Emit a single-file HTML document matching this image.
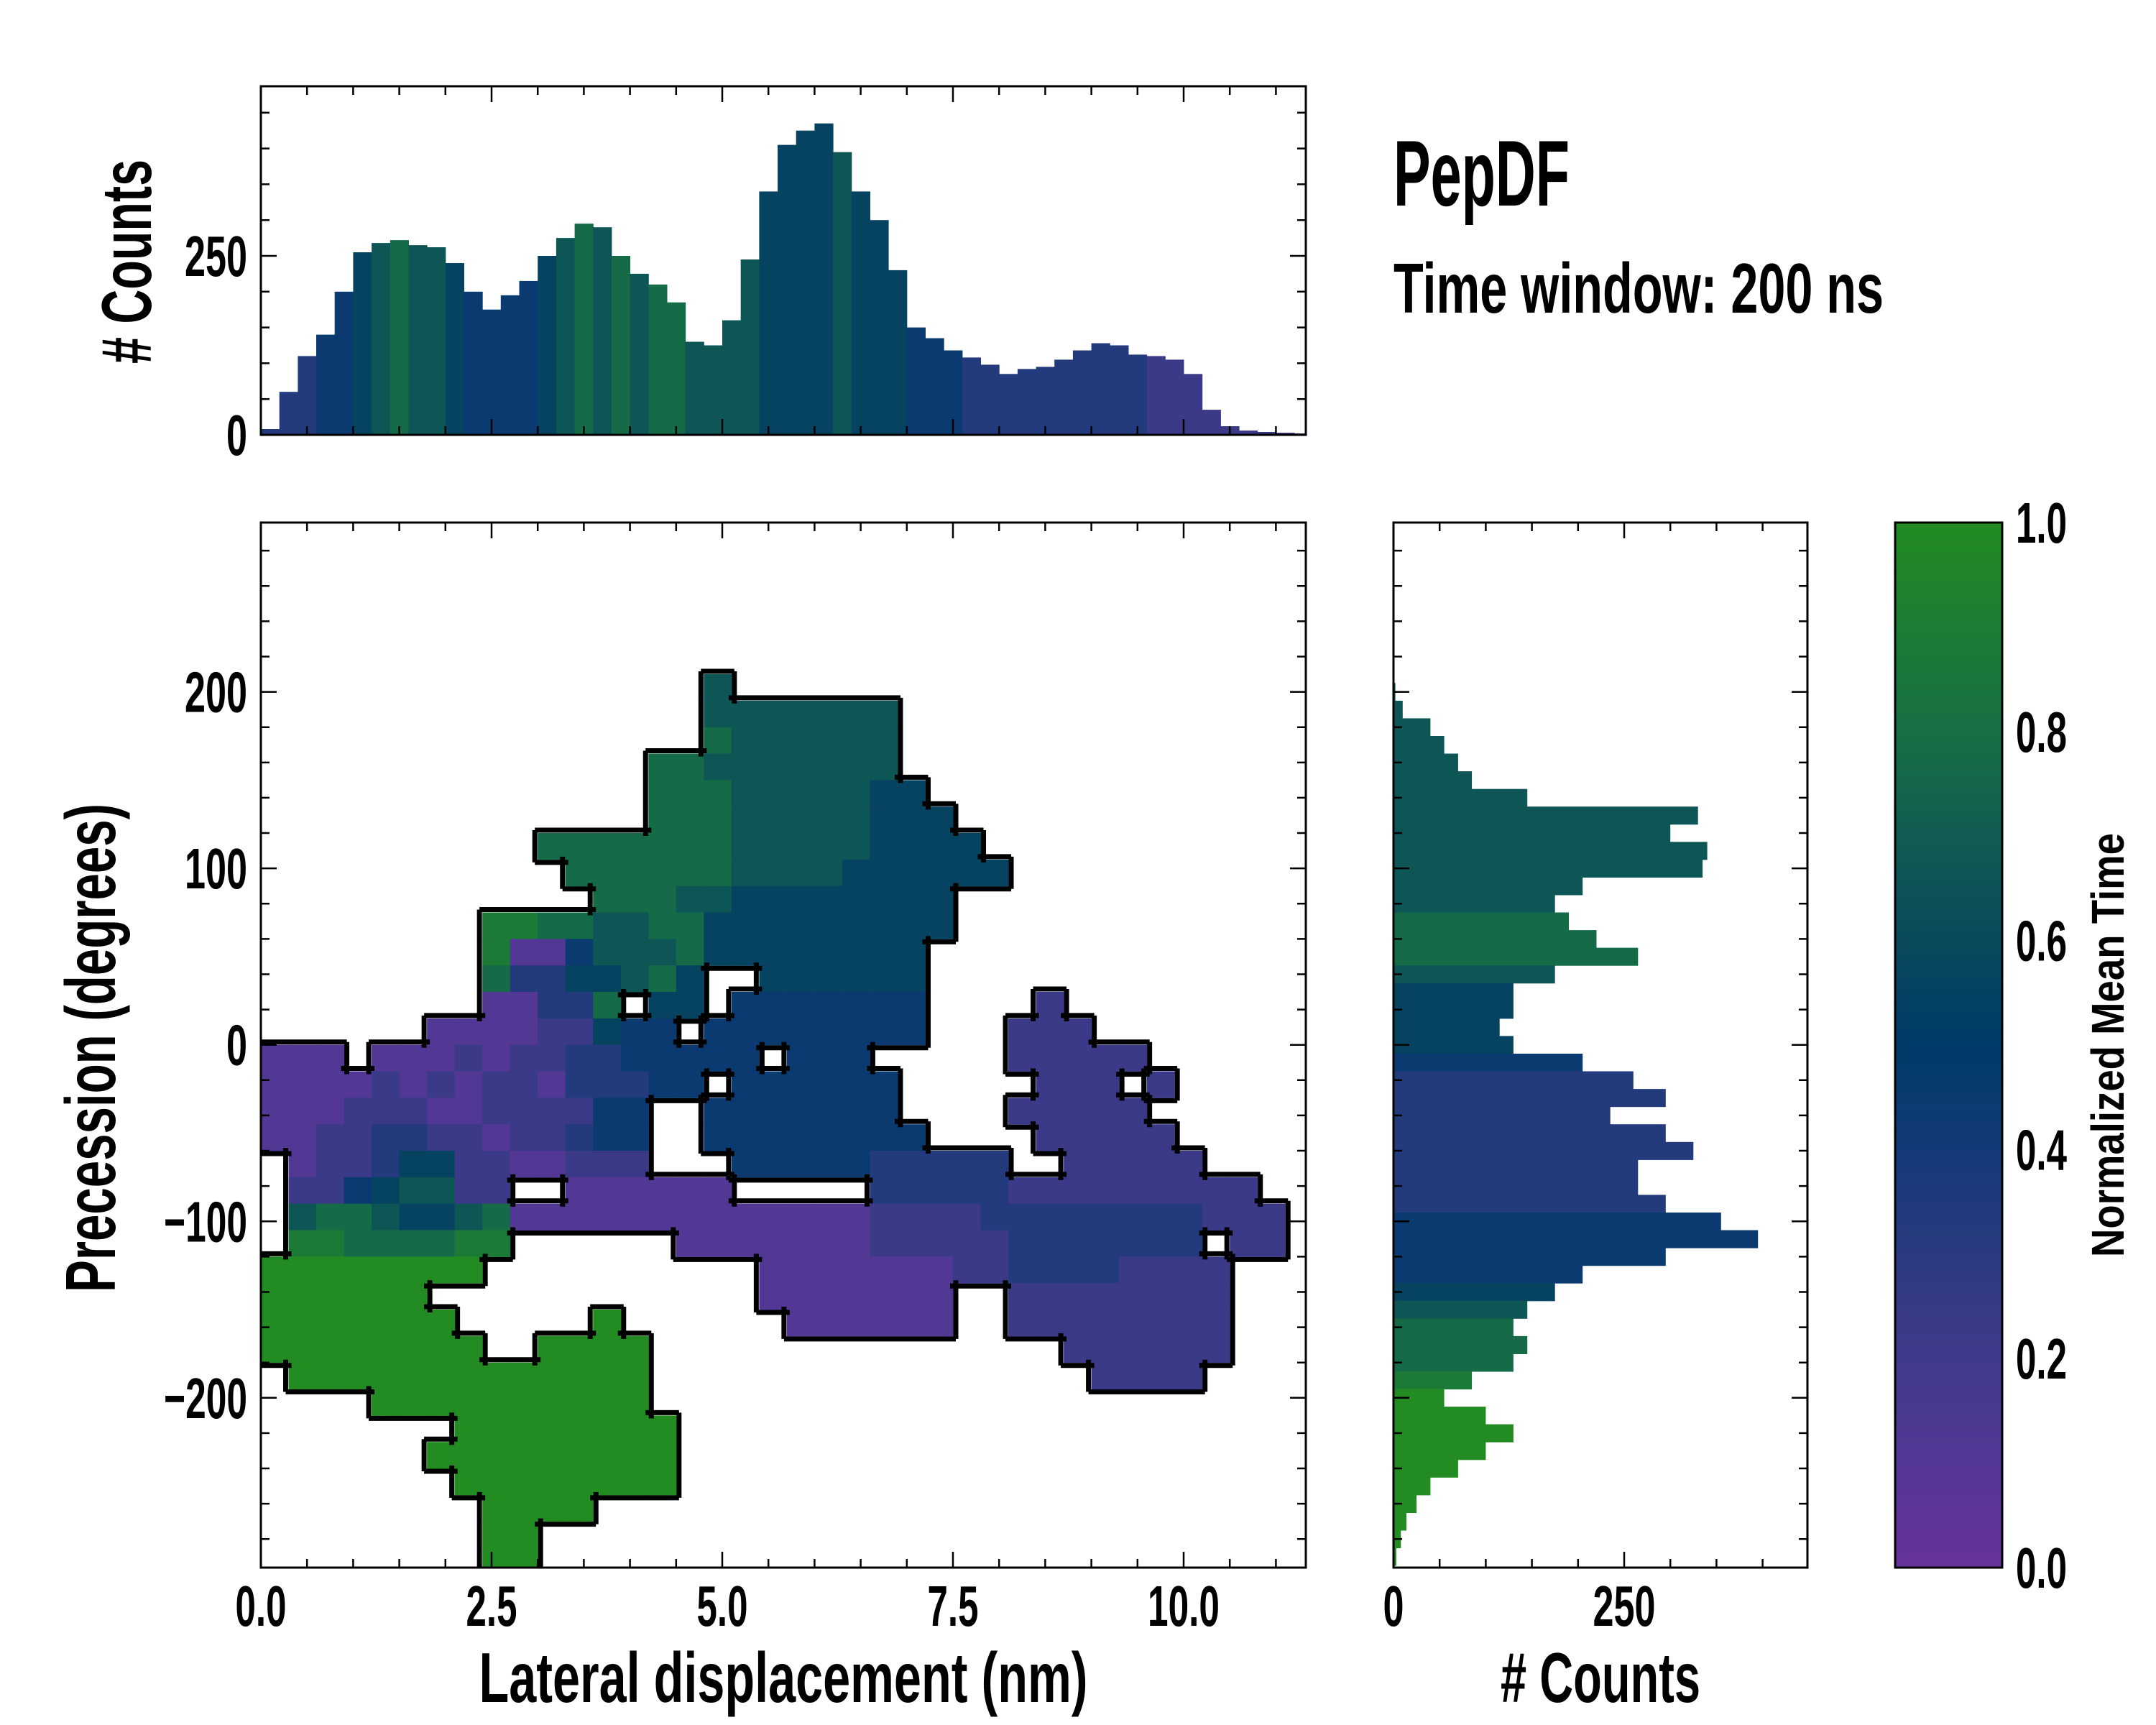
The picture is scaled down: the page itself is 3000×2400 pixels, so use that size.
<!DOCTYPE html>
<html><head><meta charset="utf-8"><style>
html,body{margin:0;padding:0;background:#fff;}
svg{display:block;}
text{font-family:"Liberation Sans Narrow","Liberation Sans",sans-serif;font-weight:bold;fill:#000;}
</style></head><body>
<svg id="fig" xmlns="http://www.w3.org/2000/svg" width="3000" height="2400" viewBox="0 0 3000 2400">
<defs>
<clipPath id="mainclip"><rect x="363" y="727" width="1454" height="1454"/></clipPath>
<linearGradient id="cbgrad" x1="0" y1="1" x2="0" y2="0"></linearGradient>
</defs>
<g id="heat" clip-path="url(#mainclip)"></g>
<g id="outline" clip-path="url(#mainclip)"></g>
<g id="tophist"></g>
<g id="righthist"></g>
<g id="axes"></g>
<rect x="2637" y="727" width="149" height="1454" fill="url(#cbgrad)" stroke="#000" stroke-width="3"/>
<text x="1939" y="286" font-size="130" textLength="245" lengthAdjust="spacingAndGlyphs">PepDF</text>
<text x="1939" y="435" font-size="98" textLength="682" lengthAdjust="spacingAndGlyphs">Time window: 200 ns</text>
<text x="1090" y="2368" font-size="98" text-anchor="middle" textLength="847" lengthAdjust="spacingAndGlyphs">Lateral displacement (nm)</text>
<text x="2227" y="2368" font-size="98" text-anchor="middle" textLength="278" lengthAdjust="spacingAndGlyphs"># Counts</text>
<text transform="translate(160,1458) rotate(-90)" x="0" y="0" font-size="98" text-anchor="middle" textLength="680" lengthAdjust="spacingAndGlyphs">Precession (degrees)</text>
<text transform="translate(210,364) rotate(-90)" x="0" y="0" font-size="98" text-anchor="middle" textLength="284" lengthAdjust="spacingAndGlyphs"># Counts</text>
<text transform="translate(2955,1454) rotate(-90)" x="0" y="0" font-size="64" text-anchor="middle" textLength="590" lengthAdjust="spacingAndGlyphs">Normalized Mean Time</text>
</svg>
<script>
// ---- data ----
const gridCellWidthNm = 0.3;
const gridCellHeightDeg = 15;
const gridTopDeg = 300;
const timeGrid = [
"......................................",
"......................................",
"......................................",
"......................................",
"......................................",
"......................................",
"................6.....................",
"................6666666...............",
"................7666666...............",
"..............776666666...............",
"..............7776666655..............",
"..............77766666555.............",
"..........7777777666665555............",
"...........7777776666555555...........",
"............7776655555555.............",
"........88776677555555555.............",
"........8114666755555555..............",
"........73355675..555555..............",
"........11337.55.4444444....2.........",
"......111122544.44444444...222........",
"111.11121223344444.444.....22222......",
"1111212122133344.444444.....222.2......".slice(0,38),
"11122211222244..4444444....22222......",
"11223322122344..44444444....22222.....",
".1223552211222...4444433333..22222....",
".22456622..111111.....33333222222222..",
".677655671111111111111222233333333222.",
".88777788......1111111222223333333.22.",
"99999999..........11111112233332222...",
"999999............1111111..22222222...",
"9999999.....9......111111..22222222...",
"99999999..9999...............222222...",
".9999999999999................2222....",
"....9999999999........................",
".......99999999.......................",
"......999999999.......................",
".......99999999.......................",
"........9999..........................",
"........99............................",
"........99............................"
];
const topBinCenters = [0.1,0.3,0.5,0.7,0.9,1.1,1.3,1.5,1.7,1.9,2.1,2.3,2.5,2.7,2.9,3.1,3.3,3.5,3.7,3.9,4.1,4.3,4.5,4.7,4.9,5.1,5.3,5.5,5.7,5.9,6.1,6.3,6.5,6.7,6.9,7.1,7.3,7.5,7.7,7.9,8.1,8.3,8.5,8.7,8.9,9.1,9.3,9.5,9.7,9.9,10.1,10.3,10.5,10.7,10.9,11.1,11.3];
const topCounts = [8,60,110,140,200,255,268,272,265,262,240,200,175,195,215,250,275,295,290,250,225,210,185,130,125,160,245,340,405,425,435,395,340,300,230,150,135,118,108,98,85,92,95,105,118,128,125,112,110,105,85,35,12,6,4,3,2];
const topTimes = [3,3,3,4,4,5,6,7,6,6,5,4,4,4,4,5,6,7,6,7,6,7,7,6,6,6,6,5,5,5,5,6,5,5,5,4,4,4,3,3,3,3,3,3,3,3,3,3,2,2,2,2,2,2,2,2,2];
const rightBinCenters = [200,190,180,170,160,150,140,130,120,110,100,90,80,70,60,50,40,30,20,10,0,-10,-20,-30,-40,-50,-60,-70,-80,-90,-100,-110,-120,-130,-140,-150,-160,-170,-180,-190,-200,-210,-220,-230,-240,-250,-260,-270,-280,-290];
const rightCounts = [2,10,40,55,70,85,145,330,300,340,335,205,175,190,220,265,175,130,130,115,130,205,260,295,235,295,325,265,265,295,355,395,295,205,175,145,130,145,130,85,55,100,130,100,70,40,25,14,8,3];
const rightTimes = [6,6,6,6,6,6,6,6,6,6,6,6,6,7,7,7,6,5,5,5,5,4,3,3,3,3,3,3,3,3,4,4,4,4,5,6,7,7,7,8,9,9,9,9,9,9,9,9,9,9];
const xTicks = [0,2.5,5,7.5,10];
const xTickLabels = ["0.0","2.5","5.0","7.5","10.0"];
const yTicks = [200,100,0,-100,-200];
const yTickLabels = ["200","100","0","\u2212100","\u2212200"];
const countTicks = [0,250];
const countTickLabels = ["0","250"];
const cbTicks = [0,0.2,0.4,0.6,0.8,1.0];
const cbTickLabels = ["0.0","0.2","0.4","0.6","0.8","1.0"];
const cmapStops = [[0,"#663399"],[0.1,"#543795"],[0.2,"#403a8c"],[0.3,"#2b3a80"],[0.4,"#133a78"],[0.5,"#003a68"],[0.6,"#0a4a5c"],[0.7,"#105c52"],[0.8,"#176f44"],[0.9,"#1c7d34"],[1.0,"#228b22"]];

// ---- scales ----
const xs = nm => 363 + nm*128.4;
const ys = deg => 1453.7 - deg*2.4555;
const hy = c => 605 - c*0.996;
const hx = c => 1939 + c*1.284;
const NS = "http://www.w3.org/2000/svg";
function hex2rgb(h){return [parseInt(h.slice(1,3),16),parseInt(h.slice(3,5),16),parseInt(h.slice(5,7),16)];}
function cmap(t){
  t=Math.max(0,Math.min(1,t));
  for(let i=0;i<cmapStops.length-1;i++){
    const a=cmapStops[i],b=cmapStops[i+1];
    if(t<=b[0]){const f=(t-a[0])/(b[0]-a[0]);const A=hex2rgb(a[1]),B=hex2rgb(b[1]);
      return "rgb("+A.map((v,k)=>Math.round(v+(B[k]-v)*f)).join(",")+")";}
  }
  return cmapStops[cmapStops.length-1][1];
}
function mk(tag,attrs,parent){const e=document.createElementNS(NS,tag);for(const k in attrs)e.setAttribute(k,attrs[k]);parent.appendChild(e);return e;}

// gradient
const grad=document.getElementById('cbgrad');
for(let i=0;i<=20;i++){mk('stop',{offset:(i/20),'stop-color':cmap(i/20)},grad);}

// heatmap
const heat=document.getElementById('heat');
const outline=document.getElementById('outline');
const filled=(r,c)=>r>=0&&r<timeGrid.length&&c>=0&&c<38&&timeGrid[r][c]&&timeGrid[r][c]!=='.';
let path="";
for(let r=0;r<timeGrid.length;r++){
  for(let c=0;c<38;c++){
    const ch=timeGrid[r][c];
    if(!ch||ch==='.')continue;
    const x0=xs(c*gridCellWidthNm),x1=xs((c+1)*gridCellWidthNm);
    const y0=ys(gridTopDeg-r*gridCellHeightDeg),y1=ys(gridTopDeg-(r+1)*gridCellHeightDeg);
    const el=mk('rect',{x:x0.toFixed(1),y:y0.toFixed(1),width:(x1-x0+0.6).toFixed(1),height:(y1-y0+0.6).toFixed(1),fill:cmap(parseInt(ch)/9)},heat);
    
    
    if(r>0&&!filled(r-1,c))path+=`M${x0-4},${y0-4}H${x1+4}`;
    if(r<timeGrid.length-1&&!filled(r+1,c))path+=`M${x0-4},${y1+4}H${x1+4}`;
    if(c>0&&!filled(r,c-1))path+=`M${x0-4},${y0-4}V${y1+4}`;
    if(c<37&&!filled(r,c+1))path+=`M${x1+4},${y0-4}V${y1+4}`;
  }
}
const ol=mk('path',{d:path,stroke:'#000',fill:'none','stroke-width':7,'stroke-linecap':'butt'},outline);



// top histogram
const th=document.getElementById('tophist');
for(let i=0;i<topCounts.length;i++){
  const a=Math.max(0,topBinCenters[i]-0.1),b=Math.min(11.32,topBinCenters[i]+0.1);
  if(b<=a)continue;
  const el=mk('rect',{x:xs(a).toFixed(1),y:hy(topCounts[i]).toFixed(1),width:(xs(b)-xs(a)+0.5).toFixed(1),height:(605-hy(topCounts[i])).toFixed(1),fill:cmap(topTimes[i]/9)},th);
  
  
}
// right histogram
const rh=document.getElementById('righthist');
for(let i=0;i<rightCounts.length;i++){
  const c=rightBinCenters[i];
  const el=mk('rect',{x:1939,y:ys(c+5).toFixed(1),width:(hx(rightCounts[i])-1939).toFixed(1),height:(ys(c-5)-ys(c+5)+0.5).toFixed(1),fill:cmap(rightTimes[i]/9)},rh);
  
  
}

// axes
const ax=document.getElementById('axes');
function frame(x,y,w,h,name){const e=mk('rect',{x:x,y:y,width:w,height:h,fill:'none',stroke:'#000','stroke-width':3},ax);}
frame(363,120,1454,485,'top-hist-frame');
frame(363,727,1454,1454,'main-plot-frame');
frame(1939,727,576,1454,'right-hist-frame');
let tk="";
function vt(x,yTop,yBot,len){tk+=`M${x},${yBot}v${-len}M${x},${yTop}v${len}`;}
function ht(y,xL,xR,len){tk+=`M${xL},${y}h${len}M${xR},${y}h${-len}`;}
for(let v=0;v<=11.3;v+=0.5){const maj=Math.abs(v/2.5-Math.round(v/2.5))<1e-6;const L=maj?22:12;vt(xs(v),727,2181,L);vt(xs(v),120,605,L);}
for(let v=-280;v<=280;v+=20){const maj=v%100===0;const L=maj?22:12;ht(ys(v),363,1817,L);ht(ys(v),1939,2515,L);}
for(let v=0;v<=480;v+=50){const maj=v%250===0;ht(hy(v),363,1817,maj?22:12);}
for(let v=0;v<=440;v+=50){const maj=v%250===0;vt(hx(v),727,2181,maj?22:12);}
for(let v=0;v<=1.0001;v+=0.05){const maj=Math.abs(v*5-Math.round(v*5))<1e-6;tk+=`M2786,${2181-v*1454}h${maj?-30:-18}`;}
const tp=mk('path',{d:tk,stroke:'#000','stroke-width':2.5,fill:'none'},ax);


function tw(txt){let w=0;for(const ch of txt){w+=(ch==='.')?13:29;}return w;}
function label(txt,x,y,anchor,name){const t=mk('text',{x:x,y:y,'font-size':80,'text-anchor':anchor,textLength:tw(txt),lengthAdjust:'spacingAndGlyphs'},ax);t.textContent=txt;}
xTicks.forEach((v,i)=>label(xTickLabels[i],xs(v),2262,'middle','x-tick-label'));
yTicks.forEach((v,i)=>label(yTickLabels[i],344,ys(v)+28,'end','y-tick-label'));
countTicks.forEach((v,i)=>label(countTickLabels[i],344,hy(v)+28,'end','top-hist-y-tick-label'));
countTicks.forEach((v,i)=>label(countTickLabels[i],hx(v),2262,'middle','right-hist-x-tick-label'));
cbTicks.forEach((v,i)=>label(cbTickLabels[i],2805,2181-v*1454+28,'start','colorbar-tick-label'));
</script>
</body></html>
